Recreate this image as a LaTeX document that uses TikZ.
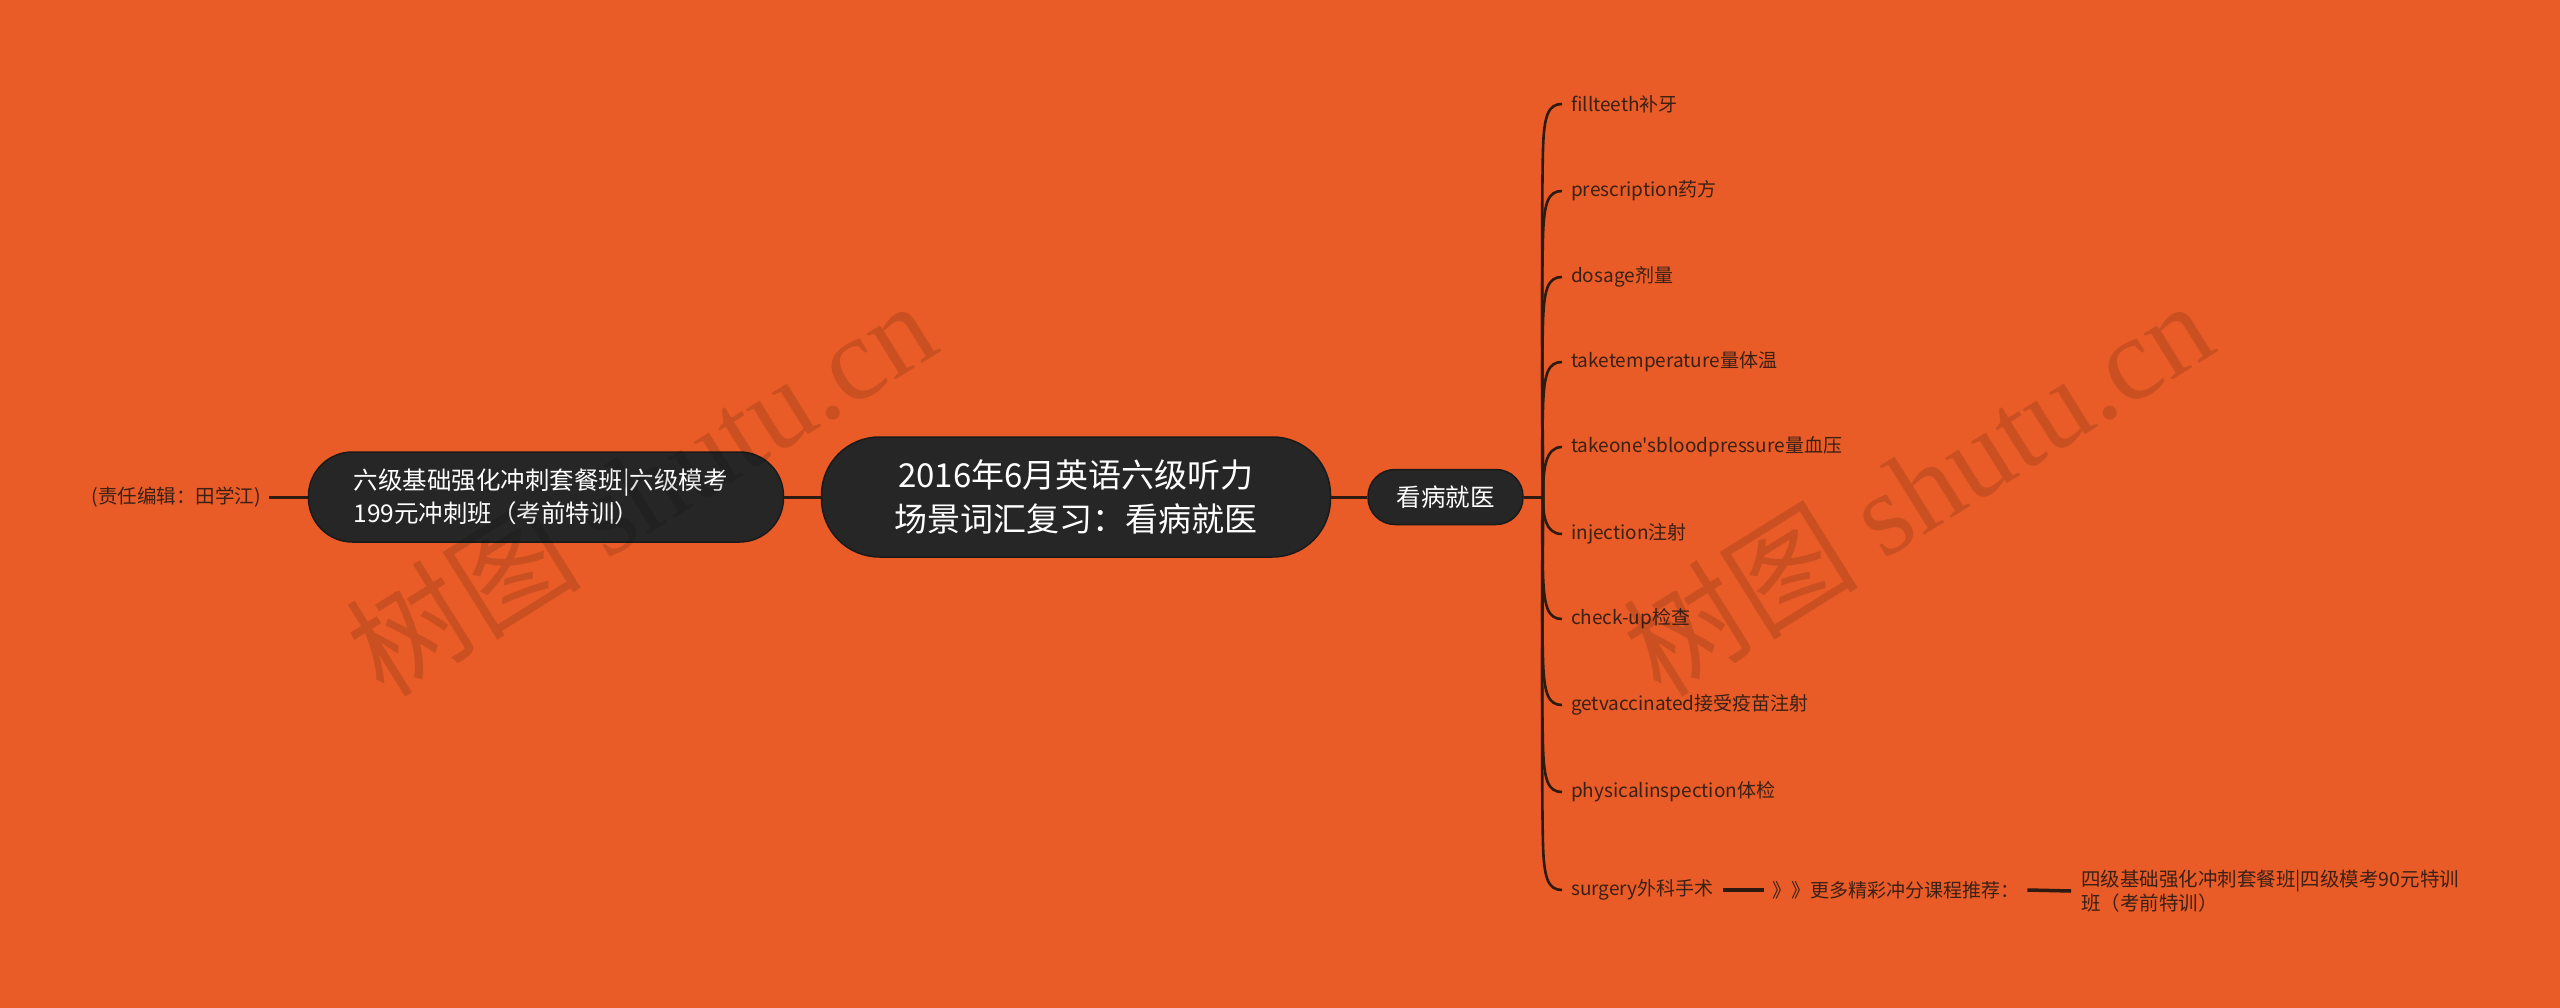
\documentclass[tikz,border=0pt]{standalone}
\usepackage{fontspec}
\newfontfamily\yh{Noto Sans CJK SC}
\newfontfamily\wmlatin{Liberation Serif}
\definecolor{bgc}{HTML}{E95C27}
\definecolor{nodec}{HTML}{262626}
\definecolor{nodeb}{HTML}{1A1A1A}
\definecolor{txtc}{HTML}{3B2016}
\definecolor{linec}{HTML}{2D1A10}
\tikzset{
  pill/.style={fill=nodec, draw=nodeb, line width=1.5pt, text=white, align=center},
  leaf/.style={anchor=west, inner xsep=9pt, inner ysep=2pt, text=txtc, font=\yh\fontsize{19}{24}\selectfont},
  conn/.style={draw=linec, line width=3pt},
  wm/.style={text=black, opacity=0.13, anchor=base west, rotate=32, inner sep=0pt}
}
\begin{document}
\begin{tikzpicture}[x=1pt,y=-1pt]
\useasboundingbox (0,0) rectangle (2560,1008);
\fill[bgc] (0,0) rectangle (2560,1008);

% main nodes
\node[pill, minimum width=509pt, minimum height=120pt, rounded corners=58pt,
      font=\yh\fontsize{33}{44}\selectfont] (root) at (1076,497)
      {2016年6月英语六级听力\\场景词汇复习：看病就医};
\node[pill, minimum width=475pt, minimum height=90pt, rounded corners=44pt,
      text width=385pt, align=left, font=\yh\fontsize{24.5}{33}\selectfont] (left) at (546,497)
      {六级基础强化冲刺套餐班|六级模考\\199元冲刺班（考前特训）};
\node[pill, minimum width=155pt, minimum height=55pt, rounded corners=27pt,
      font=\yh\fontsize{24.5}{30}\selectfont] (kb) at (1445.5,497) {看病就医};
\node[anchor=east, inner xsep=8pt, text=txtc, font=\yh\fontsize{19.5}{24}\selectfont] (ed) at (269,497)
      {(责任编辑：田学江)};

\draw[conn] (root.west) -- (left.west -| left.east);
\draw[conn] (left.west) -- (ed.east);
\draw[conn] (root.east) -- (kb.west);
\coordinate (j) at (1543,497);
\draw[conn] (kb.east) -- (j);

% leaves
\node[leaf] (c1) at (1562,104) {fillteeth补牙};
\node[leaf] (c2) at (1562,191) {prescription药方};
\node[leaf] (c3) at (1562,277) {dosage剂量};
\node[leaf] (c4) at (1562,362) {taketemperature量体温};
\node[leaf] (c5) at (1562,447) {takeone'sbloodpressure量血压};
\node[leaf] (c6) at (1562,534) {injection注射};
\node[leaf] (c7) at (1562,619) {check-up检查};
\node[leaf] (c8) at (1562,705) {getvaccinated接受疫苗注射};
\node[leaf] (c9) at (1562,792) {physicalinspection体检};
\node[leaf] (c10) at (1562,890) {surgery外科手术};

\tikzset{conn/.append style={line width=2.6pt}}
\foreach \c/\y in {c1/104,c2/191,c3/277,c4/362}
  \draw[conn] (j) .. controls (1543,460) and (1541,\y+120) .. (1543,\y+45) .. controls (1544,\y+12) and (1548,\y) .. (\c.west);
\draw[conn] (j) .. controls (1543,470) and (1545,447) .. (c5.west);
\draw[conn] (j) .. controls (1543,515) and (1545,534) .. (c6.west);
\foreach \c/\y in {c7/619,c8/705,c9/792,c10/890}
  \draw[conn] (j) .. controls (1543,534) and (1541,\y-120) .. (1543,\y-45) .. controls (1544,\y-12) and (1548,\y) .. (\c.west);

% tail of surgery
\node[leaf, inner xsep=8pt] (more) at (1764,890) {》》更多精彩冲分课程推荐：};
\node[leaf, inner xsep=10pt, text width=380pt, align=left, font=\yh\fontsize{19.5}{24}\selectfont] (cet4) at (2071,891)
   {四级基础强化冲刺套餐班|四级模考90元特训\\班（考前特训）};
\draw[conn, line width=3.5pt] (c10.east) -- (more.west);
\draw[conn, line width=3.5pt] (more.east) -- (cet4.west);

% watermarks
\node[wm] (wm1) at (384,700) {\yh\fontsize{118}{118}\selectfont 树图 \wmlatin shutu.cn};
\node[wm] (wm2) at (1661,700) {\yh\fontsize{118}{118}\selectfont 树图 \wmlatin shutu.cn};
\end{tikzpicture}
\end{document}
